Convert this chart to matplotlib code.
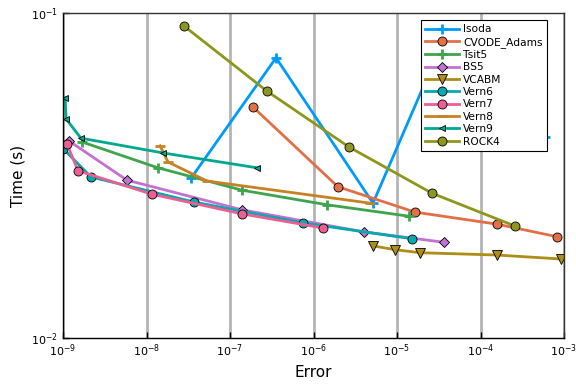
import matplotlib
matplotlib.use("Agg")
import matplotlib.pyplot as plt
from matplotlib.ticker import LogLocator, NullLocator, LogFormatterMathtext

names = ["Isoda", "CVODE_Adams", "Tsit5", "BS5", "VCABM", "Vern6", "Vern7", "Vern8", "Vern9", "ROCK4"]
colors = ["#009AFA", "#E36F47", "#3EA44E", "#C371D2", "#AC8E18", "#00AAAE", "#ED5E93", "#C68225", "#00A98D", "#8E971D"]
markers = ["+", "o", "+", "D", "v", "o", "o", "_", "<", "o"]

isoda_err = [3.41e-8, 3.56e-7, 5.16e-6, 2.77e-5, 5.92e-4]
isoda_t = [0.0310, 0.0728, 0.0260, 0.0706, 0.0415]
cvode_err = [1.88e-7, 1.96e-6, 1.64e-5, 1.58e-4, 8.24e-4]
cvode_t = [0.0514, 0.0292, 0.0244, 0.0224, 0.0205]
tsit5_err = [1.69e-9, 1.37e-8, 1.39e-7, 1.45e-6, 1.39e-5]
tsit5_t = [0.0401, 0.0334, 0.0285, 0.0257, 0.0237]
bs5_err = [1.18e-9, 5.83e-9, 1.39e-7, 4.03e-6, 3.66e-5]
bs5_t = [0.0404, 0.0306, 0.0248, 0.0212, 0.0197]
vcabm_err = [5.16e-6, 9.46e-6, 1.88e-5, 1.58e-4, 9.21e-4]
vcabm_t = [0.0192, 0.0187, 0.0183, 0.0180, 0.0175]
vern6_err = [1.01e-9, 2.16e-9, 3.71e-8, 7.48e-7, 1.51e-5]
vern6_t = [0.0382, 0.0313, 0.0262, 0.0226, 0.0202]
vern7_err = [1.12e-9, 1.51e-9, 1.16e-8, 1.39e-7, 1.30e-6]
vern7_t = [0.0395, 0.0327, 0.0277, 0.0241, 0.0218]
vern8_err = [1.45e-8, 1.81e-8, 5.31e-8, 4.75e-6]
vern8_t = [0.0390, 0.0348, 0.0304, 0.0260]
vern9_err = [1.06e-9, 1.09e-9, 1.64e-9, 1.58e-8, 2.10e-7]
vern9_t = [0.0548, 0.0472, 0.0412, 0.0371, 0.0334]
rock4_err = [2.81e-8, 2.77e-7, 2.66e-6, 2.62e-5, 2.59e-4]
rock4_t = [0.0912, 0.0575, 0.0387, 0.0279, 0.0221]

series = [(isoda_err, isoda_t), (cvode_err, cvode_t), (tsit5_err, tsit5_t), (bs5_err, bs5_t),
          (vcabm_err, vcabm_t), (vern6_err, vern6_t), (vern7_err, vern7_t), (vern8_err, vern8_t),
          (vern9_err, vern9_t), (rock4_err, rock4_t)]

fig = plt.figure(figsize=(5.76, 3.84), dpi=100)
ax = fig.add_axes([63/576, 46/384, 501/576, 325/384])

for (xe, yt), name, c, m in zip(series, names, colors, markers):
    if m in ("+", "_"):
        ax.plot(xe, yt, color=c, lw=2.0, marker=m, ms=6.5, mew=2.0, label=name)
    else:
        ms = {"o": 6.5, "D": 5.5, "v": 6.5, "<": 5}[m]
        ax.plot(xe, yt, color=c, lw=2.0, marker=m, ms=ms, mfc=c, mec="black", mew=0.6, label=name)

ax.set_xscale("log")
ax.set_yscale("log")
ax.set_xlim(1e-9, 1e-3)
ax.set_ylim(1e-2, 1e-1)
ax.xaxis.set_major_locator(LogLocator(base=10, numticks=20))
ax.xaxis.set_minor_locator(NullLocator())
ax.yaxis.set_major_locator(LogLocator(base=10, numticks=20))
ax.yaxis.set_minor_locator(NullLocator())
ax.xaxis.set_major_formatter(LogFormatterMathtext())
ax.yaxis.set_major_formatter(LogFormatterMathtext())
ax.grid(True, axis="x", color="#b4b4b4", lw=2.0, zorder=0)
ax.set_axisbelow(True)
ax.tick_params(direction="in", labelsize=8, length=4, width=1, top=False, right=False)
for s in ax.spines.values():
    s.set_linewidth(1.0)
    s.set_color("#333333")
ax.spines["left"].set_color("black")
ax.spines["bottom"].set_color("black")
ax.set_xlabel("Error", fontsize=11)
ax.set_ylabel("Time (s)", fontsize=11)

leg = ax.legend(loc="upper right", bbox_to_anchor=(0.966, 0.978), borderaxespad=0,
                fontsize=7.7, frameon=True,
                fancybox=False, edgecolor="black", framealpha=1, borderpad=0.4,
                labelspacing=0.22, handlelength=3.2, handletextpad=0.35)
leg.get_frame().set_linewidth(0.8)

fig.savefig("out.png", dpi=100)
